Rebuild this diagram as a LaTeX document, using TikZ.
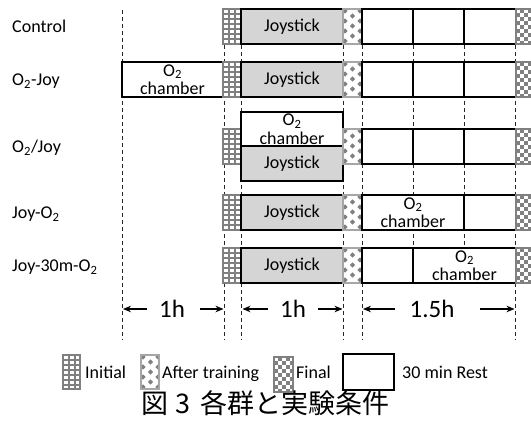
\documentclass[tikz,border=0pt]{standalone}
\usepackage{fontspec}
\setmainfont{Carlito}
\newfontfamily\cjk{Noto Sans CJK JP}
\usetikzlibrary{calc,arrows.meta}
\tikzset{
  fs/.style={font=\fontsize{18}{18.5}\selectfont},
  lab/.style={fs, anchor=base west, inner sep=0},
  restbox/.style={draw=black, line width=1.6, fill=white, minimum height=35, inner sep=0, fs, align=center},
  joybox/.style={restbox, fill=gray!33},
  guide/.style={dash pattern=on 4 off 3, line width=0.9, black!85},
  arr/.style={line width=1.1, -{Stealth[length=8,width=6.5]}},
  inibox/.style={draw=gray, line width=1.6, fill=white, minimum width=18, minimum height=35, inner sep=0,
    path picture={
      \foreach \i in {6,12} \draw[gray, line width=1.1] ($(path picture bounding box.north west)+(\i,0)$) -- ++(0,40);
      \foreach \j in {5,10,...,30} \draw[gray, line width=1.1] ($(path picture bounding box.north west)+(0,\j)$) -- ++(25,0);
    }},
  aftbox/.style={draw=gray!70, line width=1.6, fill=white, minimum width=19, minimum height=35, inner sep=0,
    path picture={
      \foreach \a/\b in {2/2,17/2,9.5/7,2/12,17/12,9.5/17,2/22,17/22,9.5/27,2/32,17/32}
        \fill[gray] ($(path picture bounding box.north west)+(\a,\b)$) +(-2.6,0) -- +(0,-2.6) -- +(2.6,0) -- +(0,2.6) -- cycle;
    }},
  finbox/.style={draw=gray, line width=1.6, fill=white, minimum width=18, minimum height=35, inner sep=0,
    path picture={
      \foreach \i in {0,...,5}{\foreach \j in {0,...,9}{
        \ifodd\numexpr\i+\j\relax
          \fill[gray] ($(path picture bounding box.north west)+(\i*4,\j*4)$) rectangle ++(4,4);
        \fi}}
    }},
}
\begin{document}
\begin{tikzpicture}[x=1pt,y=-1pt]
\useasboundingbox (0,0) rectangle (531,425);
% guide lines
\foreach \gx in {122,224.5,241.5,343.5,362,515.5} \draw[guide] (\gx,10) -- (\gx,340);
\foreach \gx in {413,464} \draw[guide] (\gx,10) -- (\gx,283);
% row labels
\node[lab] (l1) at (12,33) {Control};
\node[lab] (l2) at (12,86) {O\textsubscript{2}-Joy};
\node[lab] (l3) at (12,153) {O\textsubscript{2}/Joy};
\node[lab] (l4) at (12,219) {Joy-O\textsubscript{2}};
\node[lab] (l5) at (12,272) {Joy-30m-O\textsubscript{2}};
% row 1
\node[inibox] (i1) at (232,26.5) {};
\node[joybox, minimum width=102] (j1) at (292,26.5) {Joystick};
\node[aftbox] (a1) at (352.5,26.5) {};
\node[restbox, minimum width=51] (r1a) at (387.5,26.5) {};
\node[restbox, minimum width=51] (r1b) at (438.5,26.5) {};
\node[restbox, minimum width=52] (r1c) at (490,26.5) {};
\node[finbox] (f1) at (525,26.5) {};
% row 2
\node[restbox, minimum width=101] (c2) at (172.5,79.5) {O\textsubscript{2}\\chamber};
\node[inibox] (i2) at (232,79.5) {};
\node[joybox, minimum width=102] (j2) at (292,79.5) {Joystick};
\node[aftbox] (a2) at (352.5,79.5) {};
\node[restbox, minimum width=51] (r2a) at (387.5,79.5) {};
\node[restbox, minimum width=51] (r2b) at (438.5,79.5) {};
\node[restbox, minimum width=52] (r2c) at (490,79.5) {};
\node[finbox] (f2) at (525,79.5) {};
% row 3
\node[inibox] (i3) at (232,146.5) {};
\node[restbox, minimum width=102, minimum height=34] (c3) at (292,129) {O\textsubscript{2}\\chamber};
\node[joybox, minimum width=102] (j3) at (292,163.5) {Joystick};
\node[aftbox] (a3) at (352.5,146.5) {};
\node[restbox, minimum width=51] (r3a) at (387.5,146.5) {};
\node[restbox, minimum width=51] (r3b) at (438.5,146.5) {};
\node[restbox, minimum width=52] (r3c) at (490,146.5) {};
\node[finbox] (f3) at (525,146.5) {};
% row 4
\node[inibox] (i4) at (232,212.5) {};
\node[joybox, minimum width=102] (j4) at (292,212.5) {Joystick};
\node[aftbox] (a4) at (352.5,212.5) {};
\node[restbox, minimum width=102] (c4) at (413,212.5) {O\textsubscript{2}\\chamber};
\node[restbox, minimum width=52] (r4c) at (490,212.5) {};
\node[finbox] (f4) at (525,212.5) {};
% row 5
\node[inibox] (i5) at (232,265.5) {};
\node[joybox, minimum width=102] (j5) at (292,265.5) {Joystick};
\node[aftbox] (a5) at (352.5,265.5) {};
\node[restbox, minimum width=51] (r5a) at (387.5,265.5) {};
\node[restbox, minimum width=103] (c5) at (464.5,265.5) {O\textsubscript{2}\\chamber};
\node[finbox] (f5) at (525,265.5) {};
% durations
\tikzset{dur/.style={font=\fontsize{25}{25}\selectfont, inner sep=0}}
\node[dur] (h1) at (172,309) {1h};
\node[dur] (h2) at (293,309) {1h};
\node[dur] (h3) at (432,309) {1.5h};
\coordinate (t1l) at (147,309); \coordinate (p1l) at (123,309);
\coordinate (t1r) at (200,309); \coordinate (p1r) at (223.5,309);
\coordinate (t2l) at (268,309); \coordinate (p2l) at (242.5,309);
\coordinate (t2r) at (318,309); \coordinate (p2r) at (342.5,309);
\coordinate (t3l) at (395,309); \coordinate (p3l) at (363,309);
\coordinate (t3r) at (480,309); \coordinate (p3r) at (514.5,309);
\draw[arr] (t1l) -- (p1l); \draw[arr] (t1r) -- (p1r);
\draw[arr] (t2l) -- (p2l); \draw[arr] (t2r) -- (p2r);
\draw[arr] (t3l) -- (p3l); \draw[arr] (t3r) -- (p3r);
% legend
\node[inibox, minimum width=17, minimum height=34] (li) at (71.5,372) {};
\node[lab] (lti) at (85,378) {Initial};
\node[aftbox, minimum width=18, minimum height=34] (la) at (150,372) {};
\node[lab] (lta) at (162,378) {After training};
\node[finbox, minimum width=19] (lf) at (283.5,374.5) {};
\node[lab] (ltf) at (296,378) {Final};
\node[restbox, minimum width=51, minimum height=36] (lr) at (368.5,372) {};
\node[lab] (ltr) at (402,378) {30 min Rest};
% caption
\node[font=\cjk\fontsize{27}{27}\selectfont, inner sep=0, anchor=base] (cap) at (265.5,413) {図\hspace{7pt}3\hspace{11pt}各群と実験条件};
\end{tikzpicture}
\end{document}
